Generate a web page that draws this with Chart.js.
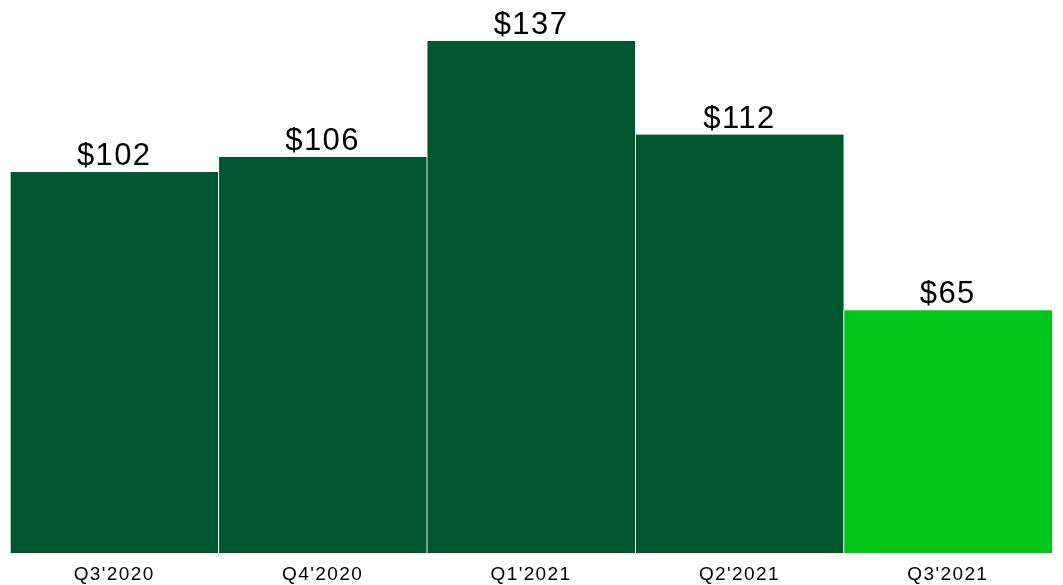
<!DOCTYPE html>
<html>
<head>
<meta charset="utf-8">
<script src="https://cdn.jsdelivr.net/npm/chart.js@4/dist/chart.umd.min.js"></script>
<style>
  html, body { margin: 0; padding: 0; background: #fff; }
  #wrap { width: 1063px; height: 585px; position: relative; }
</style>
</head>
<body>
<div id="wrap"><canvas id="chart"></canvas></div>
<script>
// quarterly values (USD)
var quarters = ["Q3'2020", "Q4'2020", "Q1'2021", "Q2'2021", "Q3'2021"];
var values = [102, 106, 137, 112, 65];
var barColors = ['#00562e', '#00562e', '#00562e', '#00562e', '#00c61a'];

// slightly wider text spacing, like the source
var spacing = {
    id: 'spacing',
    beforeInit: function(chart) { chart.ctx.letterSpacing = '1.4px'; },
    beforeDraw: function(chart) { chart.ctx.letterSpacing = '1.4px'; }
};

// draws the "$" value above each bar
var valueLabels = {
    id: 'valueLabels',
    afterDatasetsDraw: function(chart) {
        var ctx = chart.ctx;
        var meta = chart.getDatasetMeta(0);
        ctx.save();
        ctx.font = '31px "Liberation Sans", Arial, sans-serif';
        ctx.fillStyle = '#000';
        ctx.textAlign = 'center';
        ctx.textBaseline = 'alphabetic';
        meta.data.forEach(function(bar, i) {
            ctx.fillText('$' + values[i], bar.x, bar.y - 7);
        });
        ctx.restore();
    }
};

new Chart(document.getElementById('chart'), {
    type: 'bar',
    data: {
        labels: quarters,
        datasets: [{
            data: values,
            backgroundColor: barColors,
            borderColor: '#ffffff',
            borderWidth: { left: 1, right: 0, top: 0, bottom: 0 },
            borderSkipped: false,
            barPercentage: 1,
            categoryPercentage: 1
        }]
    },
    options: {
        responsive: true,
        maintainAspectRatio: false,
        animation: false,
        layout: { padding: { left: 10, right: 11, top: 0, bottom: 0 } },
        plugins: {
            legend: { display: false },
            tooltip: { enabled: false }
        },
        scales: {
            x: {
                grid: { display: false, drawTicks: false },
                border: { display: true, color: '#e6e6e6', width: 2 },
                afterFit: function(scale) { scale.height = 32; },
                ticks: {
                    color: '#000',
                    padding: 11,
                    font: { family: '"Liberation Sans", Arial, sans-serif', size: 19, lineHeight: 1.16 }
                }
            },
            y: {
                display: false,
                min: 0,
                max: 148
            }
        }
    },
    plugins: [spacing, valueLabels]
});
</script>
</body>
</html>
